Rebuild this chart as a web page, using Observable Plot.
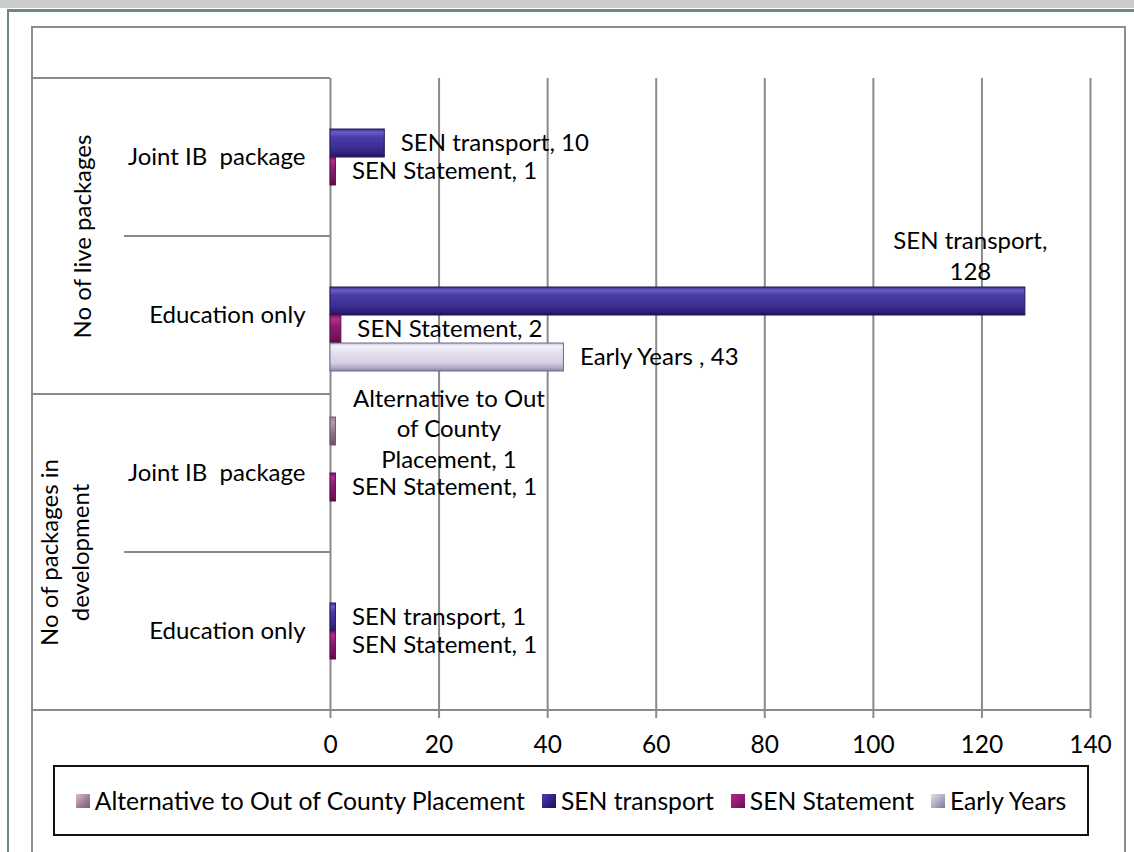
<!DOCTYPE html>
<html>
<head>
<meta charset="utf-8">
<script src="https://cdn.jsdelivr.net/npm/d3@7"></script>
<script src="https://cdn.jsdelivr.net/npm/@observablehq/plot@0.6"></script>
<style>
  body { margin: 0; background: #fff; font-family: Lato, sans-serif; }
  #page { position: relative; width: 1134px; height: 852px; overflow: hidden; background: #fff; }
  .strip { position: absolute; left: 0; top: 0; width: 1134px; height: 8px; background: #cccccc; }
  .outer { position: absolute; left: 7px; top: 9px; width: 1200px; height: 900px; border-left: 2px solid #6e8a73; border-top: 3px solid #6e8a73; }
  .box { position: absolute; left: 31px; top: 26px; width: 1091px; height: 900px; border: 2px solid #8c8c8c; }
  #chart { position: absolute; left: 0; top: 0; }
  #chart svg text { white-space: pre; }
  .legend { position: absolute; left: 53px; top: 765px; width: 1032px; height: 67px; border: 2px solid #111;
            display: flex; align-items: center; justify-content: center; gap: 17px; font: 24.7px Lato, sans-serif; color: #000; background: #fff; }
  .item { display: flex; align-items: center; white-space: pre; }
  .sw { display: inline-block; width: 14px; height: 14px; margin-right: 5px; box-sizing: border-box; }
</style>
</head>
<body>
<div id="page">
  <div class="strip"></div>
  <div class="outer"></div>
  <div class="box"></div>
  <div id="chart"></div>
  <div class="legend" id="legend"></div>
</div>
<script>
// ---- data ----
const groups = ["No of live packages", "No of packages in\ndevelopment"];
const categories = ["Joint IB  package", "Education only"];
const seriesNames = ["Alternative to Out of County Placement", "SEN transport", "SEN Statement", "Early Years"];
const labelNames = ["Alternative to Out\nof County\nPlacement", "SEN transport", "SEN Statement", "Early Years "];
// rows: live/Joint IB, live/Education only, development/Joint IB, development/Education only
const altValues       = [null, null, 1, null];
const transportValues = [10, 128, null, 1];
const statementValues = [1, 2, 1, 1];
const earlyValues     = [null, 43, null, null];
const xTicks = [0, 20, 40, 60, 80, 100, 120, 140];

const seriesValues = [altValues, transportValues, statementValues, earlyValues];
const rowKeys = [];
groups.forEach((g, gi) => categories.forEach(c => rowKeys.push(gi + "|" + c)));

const rows = [];
rowKeys.forEach((key, r) => {
  seriesValues.forEach((vals, s) => {
    if (vals[r] != null) rows.push({key, series: seriesNames[s], s, value: vals[r],
      label: labelNames[s] + ", " + vals[r]});
  });
});
const catRows = rowKeys.map(key => ({key, label: key.split("|")[1]}));
const groupRows = groups.map((g, gi) => ({key: rowKeys[gi * 2], label: g, gi}));

const fills = ["url(#gAlt)", "url(#gTr)", "url(#gSt)", "url(#gEy)"];
const strokes = ["#6d5566", "#1f175a", "#5e0f48", "#6f6a84"];
const swatches = [
  "linear-gradient(135deg, #d8c0d2, #9a7a92 60%, #7a5e72)",
  "linear-gradient(135deg, #4b3fb0, #2a1f7e 60%, #1d155c)",
  "linear-gradient(135deg, #b02a8a, #8a1a6c 60%, #5e0f48)",
  "linear-gradient(135deg, #e4e0ee, #a8a2bc 60%, #7d7792)"
];

const isBig = d => d.value > 100;
const isAlt = d => d.s === 0;

const plot = Plot.plot({
  width: 1134,
  height: 760,
  marginLeft: 330,
  marginRight: 44,
  marginTop: 78,
  marginBottom: 50,
  style: {background: "transparent", fontFamily: "Lato, sans-serif", fontSize: "24px", color: "#000", overflow: "visible"},
  x: {domain: [0, 140], axis: null},
  y: {domain: seriesNames, paddingInner: 0, paddingOuter: 0.82, axis: null},
  fy: {domain: rowKeys, padding: 0, axis: null},
  marks: [
    Plot.gridX(xTicks, {stroke: "#8a8a8a", strokeOpacity: 1, strokeWidth: 2}),
    Plot.axisX({ticks: xTicks, tickSize: 8, tickPadding: 17, stroke: "#8a8a8a", strokeWidth: 2, fill: "#000",
                fontSize: 24.5, label: null, tickFormat: d => String(d)}),
    ...seriesNames.map((name, s) => Plot.barX(rows.filter(d => d.s === s), {
      x1: 0, x2: "value", y: "series", fy: "key", fill: fills[s], stroke: strokes[s], strokeWidth: 1
    })),
    Plot.text(rows.filter(d => !isBig(d) && !isAlt(d)), {
      x: "value", y: "series", fy: "key", text: "label", textAnchor: "start", dx: 16, fill: "#000"
    }),
    Plot.text(rows.filter(isAlt), {
      x: "value", y: "series", fy: "key", text: "label", textAnchor: "middle", dx: 113, dy: -4, lineHeight: 1.28, fill: "#000"
    }),
    Plot.text(rows.filter(isBig), {
      x: "value", y: "series", fy: "key", text: d => labelNames[d.s] + ",\n" + d.value,
      textAnchor: "middle", dx: -55, dy: -47, lineHeight: 1.28, fill: "#000"
    }),
    Plot.text(catRows, {fy: "key", text: "label", frameAnchor: "left", textAnchor: "end", dx: -25, fill: "#000"}),
    Plot.text(groupRows.filter(d => d.gi === 0), {fy: "key", text: "label", frameAnchor: "bottom-left", rotate: -90,
      textAnchor: "middle", lineAnchor: "middle", dx: -247, fill: "#000"}),
    Plot.text(groupRows.filter(d => d.gi === 1), {fy: "key", text: "label", frameAnchor: "bottom-left", rotate: -90,
      textAnchor: "middle", lineAnchor: "middle", lineHeight: 1.3, dx: -267, fill: "#000"})
  ]
});
document.getElementById("chart").appendChild(plot);

// gradient definitions for the bevelled bars
const svg = d3.select(plot.tagName.toLowerCase() === "svg" ? plot : plot.querySelector("svg"));
const defs = svg.insert("defs", ":first-child");
function grad(id, stops) {
  const g = defs.append("linearGradient").attr("id", id).attr("x1", 0).attr("y1", 0).attr("x2", 0).attr("y2", 1);
  stops.forEach(([o, c]) => g.append("stop").attr("offset", o).attr("stop-color", c));
}
grad("gTr", [[0, "#3d2f96"], [0.12, "#6a5cc4"], [0.3, "#4a3ca6"], [0.7, "#3a2c90"], [0.88, "#2c207a"], [1, "#1c1458"]]);
grad("gSt", [[0, "#7a1660"], [0.15, "#b0308e"], [0.4, "#8c1c70"], [0.85, "#6e1358"], [1, "#4e0c3e"]]);
grad("gEy", [[0, "#c8c2da"], [0.12, "#f4f2fa"], [0.35, "#e4e0f0"], [0.7, "#d6d0e4"], [0.88, "#b2aac6"], [1, "#8c84a2"]]);
grad("gAlt", [[0, "#9c8496"], [0.2, "#b49aac"], [0.6, "#8c7084"], [1, "#6a5264"]]);

// table lines of the category axis, positioned through the Plot scales
const fy = plot.scale("fy");
const xs = plot.scale("x");
const x0 = xs.range[0], x1 = xs.range[1];
const tableLeft = x0 - 299, catLeft = x0 - 206;
const lines = [];
lines.push([tableLeft, x0, fy.apply(rowKeys[0])]);
rowKeys.forEach((k, i) => {
  const yb = fy.apply(k) + fy.bandwidth;
  if (i === rowKeys.length - 1) lines.push([tableLeft, x1, yb]);
  else if (i % 2 === 1) lines.push([tableLeft, x0, yb]);
  else lines.push([catLeft, x0, yb]);
});
svg.append("g").selectAll("line").data(lines).join("line")
  .attr("x1", d => d[0]).attr("x2", d => d[1]).attr("y1", d => d[2]).attr("y2", d => d[2])
  .attr("stroke", "#8a8a8a").attr("stroke-width", 2);

// legend
const legend = document.getElementById("legend");
seriesNames.forEach((name, s) => {
  const item = document.createElement("div");
  item.className = "item";
  const sw = document.createElement("span");
  sw.className = "sw";
  sw.style.background = swatches[s];
  item.appendChild(sw);
  item.appendChild(document.createTextNode(name));
  legend.appendChild(item);
});
</script>
</body>
</html>
